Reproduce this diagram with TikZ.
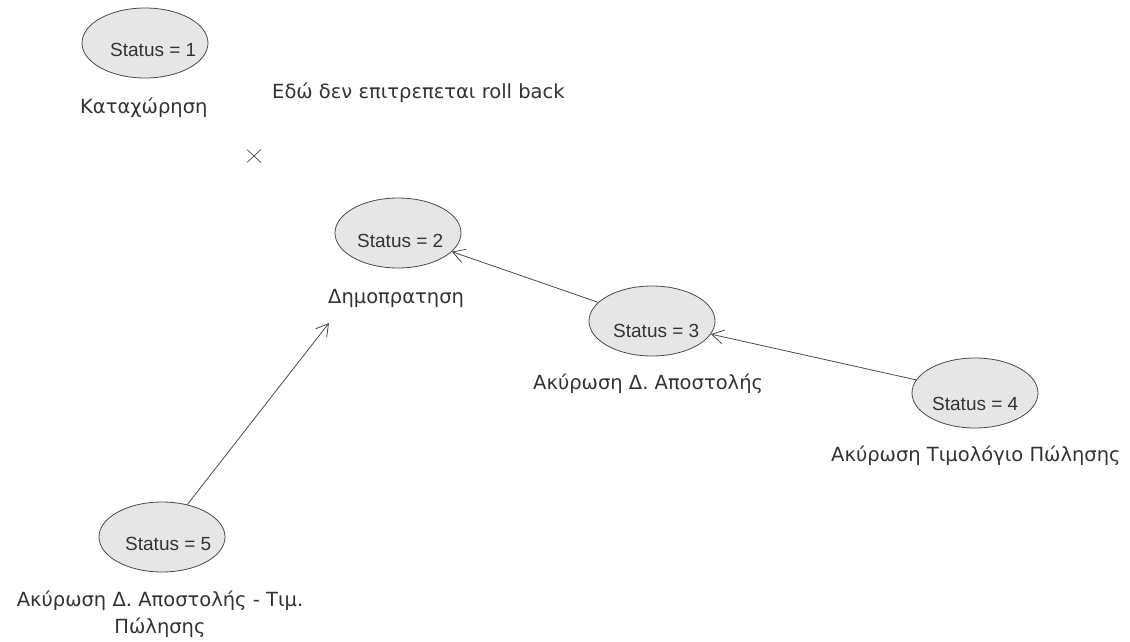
\documentclass[tikz,border=0pt]{standalone}
\usepackage{fontspec}
\setmainfont{Liberation Sans}
\newfontfamily\labfont{DejaVu Sans}
\usetikzlibrary{shapes.geometric,shapes.misc,arrows.meta}
\definecolor{txtc}{HTML}{333333}
\definecolor{linec}{HTML}{4A4A4A}
\definecolor{fillc}{HTML}{E6E6E6}
\begin{document}
\begin{tikzpicture}[x=1pt,y=-1pt,
  stat/.style={ellipse,draw=linec,fill=fillc,line width=0.8pt,minimum width=126pt,minimum height=70pt,inner sep=0pt},
  txt/.style={text=txtc,font=\fontsize{19}{27}\selectfont,inner sep=0pt,anchor=base west},
  lab/.style={text=txtc,font=\labfont\fontsize{19.5}{27}\selectfont,inner sep=0pt,anchor=base west},
  conn/.style={draw=linec,line width=0.8pt,-{Straight Barb[length=12pt,width=14pt,line width=0.8pt]}}]
\useasboundingbox[fill=white] (0,0) rectangle (1130,642);
% ellipses
\node[stat] (s1) at (145,43) {};
\node[stat] (s2) at (398,233) {};
\node[stat] (s3) at (652,321) {};
\node[stat] (s4) at (975,393) {};
\node[stat] (s5) at (162,537) {};
% status texts
\node[txt] (t1) at (110,57) {Status = 1};
\node[txt] (t2) at (357,247) {Status = 2};
\node[txt] (t3) at (613,337) {Status = 3};
\node[txt] (t4) at (932,410) {Status = 4};
\node[txt] (t5) at (125,550) {Status = 5};
% labels
\node[lab] (l1) at (80,113) {Καταχώρηση};
\node[lab] (note) at (272,99) {Εδώ δεν επιτρεπεται roll back};
\node[lab] (l2) at (328,303) {Δημοπρατηση};
\node[lab] (l3) at (533,389) {Ακύρωση Δ. Αποστολής};
\node[lab] (l4) at (831,461) {Ακύρωση Τιμολόγιο Πώλησης};
\node[lab,anchor=north,align=center] (l5) at (160,591) {Ακύρωση Δ. Αποστολής - Τιμ.\\Πώλησης};
% cross mark
\node[cross out,draw=linec,line width=0.7pt,minimum width=13pt,minimum height=12pt,inner sep=0pt] (xm) at (254,156) {};
% connectors
\coordinate (a5) at (329,323);
\draw[conn] (s3) -- (s2);
\draw[conn] (s4) -- (s3);
\draw[conn] (s5) -- (a5);
\end{tikzpicture}
\end{document}
